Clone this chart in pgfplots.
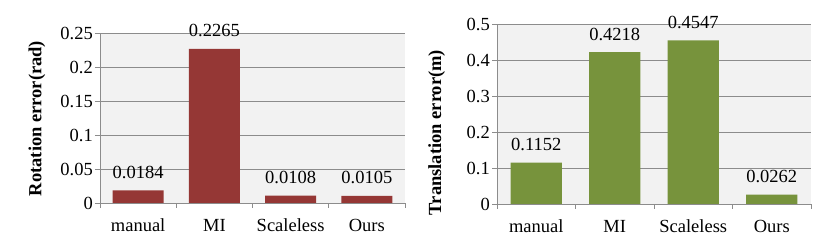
\documentclass[border=0pt]{standalone}
\usepackage{fontspec}
\setmainfont{Liberation Serif}
\usepackage{pgfplots}
\pgfplotsset{compat=1.18}
\definecolor{bgc}{HTML}{F2F2F2}
\definecolor{gridc}{HTML}{8C8C8C}
\definecolor{redbar}{HTML}{953735}
\definecolor{greenbar}{HTML}{77933C}
\newcommand{\myfont}{\fontsize{18.5}{22}\selectfont}
\pgfplotsset{
  mybar/.style={
    scale only axis,
    axis background/.style={fill=bgc},
    ybar,
    xmin=-0.5, xmax=3.5,
    xtick={0,1,2,3},
    xticklabels={manual,MI,Scaleless,Ours},
    major x tick style={draw=none},
    extra x ticks={-0.5,0.5,1.5,2.5,3.5},
    extra x tick labels={},
    extra x tick style={grid=none, major x tick style={draw=gridc, line width=0.8pt}},
    ymin=0,
    ymajorgrids,
    grid style={draw=gridc, line width=0.8pt},
    axis x line*=bottom,
    axis y line*=left,
    axis line style={draw=gridc, line width=0.8pt},
    major y tick style={draw=gridc, line width=0.8pt},
    tick align=outside,
    major tick length=5pt,
    every tick label/.append style={font=\myfont, inner sep=0pt},
    yticklabel style={xshift=-2pt},
    xticklabel style={anchor=base, yshift=-24pt},
    /pgf/number format/assume math mode=true,
    nodes near coords,
    nodes near coords style={font=\myfont, inner sep=0pt, /pgf/number format/fixed, /pgf/number format/fixed zerofill, /pgf/number format/precision=4},
    every node near coord/.append style={anchor=base, yshift=12pt},
    every axis y label/.style={font=\myfont\bfseries, rotate=90, anchor=center},
  }
}
\begin{document}
\myfont
\begin{tikzpicture}[x=1pt,y=1pt]
\useasboundingbox (0,0) rectangle (830,246);
\begin{axis}[mybar,
  at={(100pt,43pt)}, anchor=south west,
  width=305pt, height=170pt,
  bar width=51pt,
  ymax=0.25,
  ytick={0,0.05,0.1,0.15,0.2,0.25},
  yticklabels={0,0.05,0.1,0.15,0.2,0.25},
  ylabel={Rotation error(rad)},
  ylabel style={at={(axis description cs:-0.2066,0.497)}},
]
\addplot[fill=redbar, draw=none] coordinates {(0,0.0184) (1,0.2265) (2,0.0108) (3,0.0105)};
\end{axis}
\begin{axis}[mybar,
  at={(497pt,42pt)}, anchor=south west,
  width=314pt, height=180pt,
  bar width=51.3pt,
  ymax=0.5,
  ytick={0,0.1,0.2,0.3,0.4,0.5},
  yticklabels={0,0.1,0.2,0.3,0.4,0.5},
  ylabel={Translation error(m)},
  ylabel style={at={(axis description cs:-0.192,0.397)}},
]
\addplot[fill=greenbar, draw=none] coordinates {(0,0.1152) (1,0.4218) (2,0.4547) (3,0.0262)};
\end{axis}
\end{tikzpicture}
\end{document}
